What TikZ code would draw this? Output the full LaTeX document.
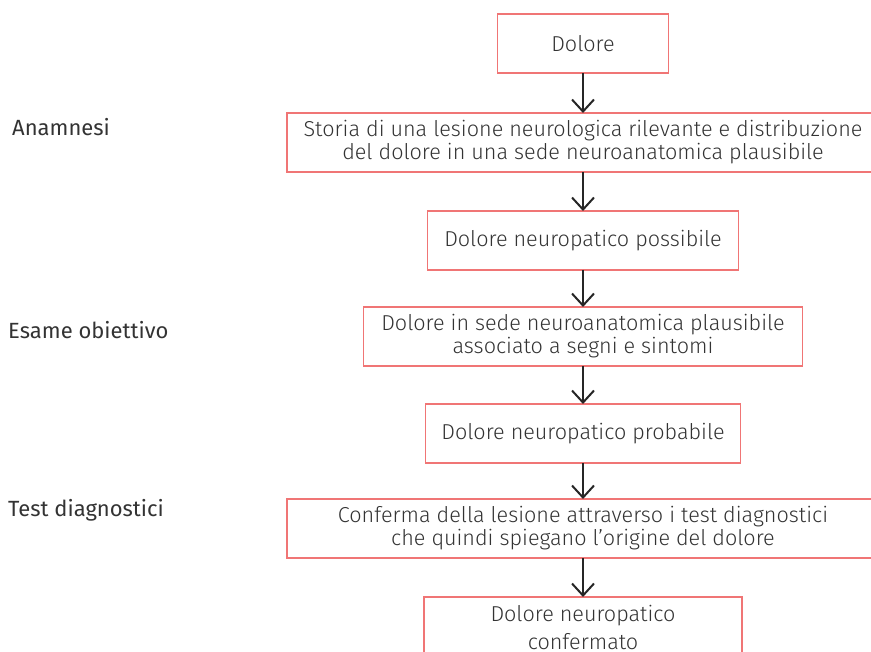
\documentclass[tikz,border=0pt]{standalone}
\usepackage{fontspec}
\setmainfont{Fira Sans}
\newfontfamily\lightfont{Fira Sans Light}
\usepackage{tikz}
\usetikzlibrary{positioning}
\usetikzlibrary{arrows.meta}
\definecolor{boxred}{HTML}{F07575}
\definecolor{inkgrey}{HTML}{333333}

\begin{document}
\begin{tikzpicture}[x=1pt, y=1pt, node distance=38pt,
    stepbox/.style={draw=boxred, line width=1.4pt, minimum height=59pt, inner sep=0pt, outer sep=0pt,
        align=center, text=inkgrey, font=\lightfont\fontsize{21.6}{23}\selectfont},
    stage/.style={anchor=west, inner sep=0pt, text=inkgrey, font=\fontsize{22}{24}\selectfont},
    flow/.style={-{Straight Barb[length=12pt, width=22pt]}, line width=2pt, draw=black!85}]

    \useasboundingbox (0,0) rectangle (871,-652);

    \node [stepbox, minimum width=171pt] (dolore) at (583,-43.5) {Dolore};
    \node [stepbox, minimum width=592pt, below=40pt of dolore] (storia) {Storia di una lesione neurologica rilevante e distribuzione\\del dolore in una sede neuroanatomica plausibile};
    \node [stepbox, minimum width=311pt, below=39pt of storia] (possibile) {Dolore neuropatico possibile};
    \node [stepbox, minimum width=439pt, below=37pt of possibile] (sede) {Dolore in sede neuroanatomica plausibile\\associato a segni e sintomi};
    \node [stepbox, minimum width=315pt, below=38pt of sede] (probabile) {Dolore neuropatico probabile};
    \node [stepbox, minimum width=592pt, below=36pt of probabile] (conferma) {Conferma della lesione attraverso i test diagnostici\\che quindi spiegano l’origine del dolore};
    \node [stepbox, minimum width=318pt, minimum height=60pt, font=\lightfont\fontsize{21.6}{28}\selectfont,
        below=39pt of conferma] (confermato) {Dolore neuropatico\\confermato};

    \node [stage] (anamnesi) at (12,-127) {Anamnesi};
    \node [stage] (esame) at (8,-330) {Esame obiettivo};
    \node [stage] (test) at (8,-510) {Test diagnostici};

    \draw [flow] (dolore) -- (storia);
    \draw [flow] (storia) -- (possibile);
    \draw [flow] (possibile) -- (sede);
    \draw [flow] (sede) -- (probabile);
    \draw [flow] (probabile) -- (conferma);
    \draw [flow] (conferma) -- (confermato);

\end{tikzpicture}
\end{document}
